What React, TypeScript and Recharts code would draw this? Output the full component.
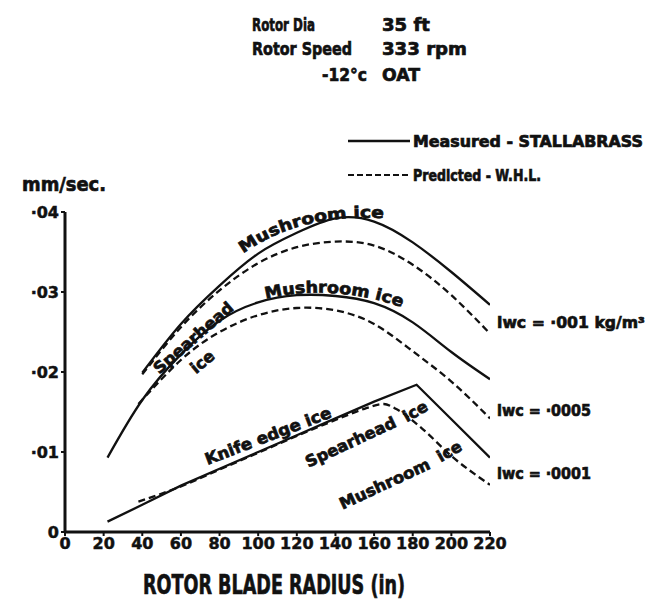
import { LineChart, Line, XAxis, YAxis } from "recharts";

// values (x = radius in, y = mm/sec)
const hiX = [40, 60, 80, 100, 120, 140, 160, 180, 200, 220];
const hiMeasured = [0.0199, 0.026, 0.0308, 0.0348, 0.0374, 0.0392, 0.0388, 0.0362, 0.0325, 0.0284];
const hiPredicted = [0.0197, 0.0256, 0.0302, 0.0336, 0.0356, 0.0363, 0.0358, 0.0334, 0.0296, 0.0248];

const midX = [22, 40, 60, 80, 100, 120, 140, 160, 180, 200, 220];
const midMeasured = [0.0093, 0.0165, 0.0222, 0.0264, 0.0287, 0.0296, 0.0295, 0.0286, 0.0262, 0.0225, 0.0191];
const midPredX = [38, 60, 80, 100, 120, 140, 160, 180, 200, 220];
const midPredicted = [0.016, 0.0215, 0.025, 0.0271, 0.028, 0.0277, 0.026, 0.0226, 0.0188, 0.0142];

const loX = [22, 40, 60, 80, 100, 120, 140, 160, 182, 200, 220];
const loMeasured = [0.0013, 0.0034, 0.0058, 0.0079, 0.01, 0.0121, 0.0142, 0.0163, 0.0184, 0.0141, 0.0093];
const loPredX = [38, 60, 80, 100, 120, 140, 155, 165, 172, 185, 200, 220];
const loPredicted = [0.0038, 0.0057, 0.0078, 0.0099, 0.012, 0.014, 0.0154, 0.016, 0.0153, 0.0129, 0.0095, 0.0059];

const xTicks = [0, 20, 40, 60, 80, 100, 120, 140, 160, 180, 200, 220];
const yTicks = [0, 0.01, 0.02, 0.03, 0.04];

const pts = (xs: number[], ys: number[]) => xs.map((x, i) => ({ x, y: ys[i] }));

const FONT = '"DejaVu Sans", sans-serif';
const INK = "#111";
const SQ = "spacingAndGlyphs";

function Overlay() {
  const t = { fontFamily: FONT, fontWeight: 700, fill: INK, stroke: INK, strokeWidth: 0.7 } as const;
  return (
    <svg width={655} height={607} style={{ position: "absolute", left: 0, top: 0, pointerEvents: "none" }}>
      <defs>
        <path id="hiLbl" d="M240,256 Q300,211 392,219" />
        <path id="midLbl" d="M262,300 Q330,282 404,308" />
      </defs>
      {/* header */}
      <g {...t} fontSize={18}>
        <text x={252} y={31} textLength={63} lengthAdjust={SQ}>Rotor Dia</text>
        <text x={382} y={31} textLength={48} lengthAdjust={SQ}>35 ft</text>
        <text x={252} y={55} textLength={100} lengthAdjust={SQ}>Rotor Speed</text>
        <text x={382} y={55} textLength={85} lengthAdjust={SQ}>333 rpm</text>
        <text x={322} y={81} textLength={45} lengthAdjust={SQ}>-12°c</text>
        <text x={382} y={81} textLength={38} lengthAdjust={SQ}>OAT</text>
      </g>
      {/* legend */}
      <line x1={348} y1={141} x2={410} y2={141} stroke={INK} strokeWidth={2.4} />
      <line x1={348} y1={175} x2={410} y2={175} stroke={INK} strokeWidth={2.2} strokeDasharray="6 3" />
      <g {...t} fontSize={15}>
        <text x={413} y={147} textLength={230} lengthAdjust={SQ}>Measured - STALLABRASS</text>
        <text x={413} y={181} textLength={128} lengthAdjust={SQ}>Predicted - W.H.L.</text>
      </g>
      <text {...t} fontSize={20} x={22} y={191} textLength={84} lengthAdjust={SQ}>mm/sec.</text>
      {/* lwc labels */}
      <g {...t} fontSize={16}>
        <text x={497} y={328} textLength={148} lengthAdjust={SQ}>lwc = ·001  kg/m³</text>
        <text x={497} y={416} textLength={94} lengthAdjust={SQ}>lwc = ·0005</text>
        <text x={497} y={479} textLength={94} lengthAdjust={SQ}>lwc = ·0001</text>
      </g>
      {/* ice type labels */}
      <g {...t} fontSize={16}>
        <text><textPath href="#hiLbl" startOffset={4} textLength={148} lengthAdjust={SQ}>Mushroom ice</textPath></text>
        <text><textPath href="#midLbl" startOffset={4} textLength={138} lengthAdjust={SQ}>Mushroom ice</textPath></text>
        <text transform="translate(197,342) rotate(-41)" textAnchor="middle" textLength={100} lengthAdjust={SQ}>Spearhead</text>
        <text transform="translate(206,366) rotate(-40)" textAnchor="middle">ice</text>
        <text transform="translate(270,441) rotate(-21)" textAnchor="middle" textLength={134} lengthAdjust={SQ}>Knife edge ice</text>
        <text transform="translate(353,447) rotate(-25)" textAnchor="middle" textLength={98} lengthAdjust={SQ}>Spearhead</text>
        <text transform="translate(418,416) rotate(-30)" textAnchor="middle">ice</text>
        <text transform="translate(387,489) rotate(-25)" textAnchor="middle" textLength={98} lengthAdjust={SQ}>Mushroom</text>
        <text transform="translate(452,456) rotate(-30)" textAnchor="middle">ice</text>
      </g>
      <text {...t} fontSize={26} x={143} y={594} textLength={262} lengthAdjust={SQ}>ROTOR BLADE RADIUS (in)</text>
    </svg>
  );
}

export default function App() {
  const common = { dataKey: "y", stroke: INK, strokeWidth: 2.3, dot: false, isAnimationActive: false } as const;
  const dash = "7 4";
  const tick = { fill: INK, stroke: INK, strokeWidth: 0.5, fontSize: 16, fontWeight: 700, fontFamily: FONT };
  return (
    <div style={{ position: "absolute", left: 0, top: 0, width: 655, height: 607, background: "#fff" }}>
      <LineChart width={655} height={607} margin={{ top: 212, right: 165, bottom: 45, left: 5 }}>
        <XAxis
          type="number"
          dataKey="x"
          domain={[0, 220]}
          ticks={xTicks}
          height={30}
          axisLine={{ stroke: INK, strokeWidth: 3 }}
          tickLine={{ stroke: INK, strokeWidth: 2 }}
          tickSize={4}
          tick={tick}
          allowDataOverflow
        />
        <YAxis
          type="number"
          domain={[0, 0.04]}
          ticks={yTicks}
          width={60}
          axisLine={{ stroke: INK, strokeWidth: 3 }}
          tickLine={{ stroke: INK, strokeWidth: 2 }}
          tickSize={4}
          tick={tick}
          tickFormatter={(v: number) => (v === 0 ? "0" : "·0" + Math.round(v * 100))}
          allowDataOverflow
        />
        <Line {...common} data={pts(hiX, hiMeasured)} type="natural" />
        <Line {...common} data={pts(hiX, hiPredicted)} type="natural" strokeDasharray={dash} />
        <Line {...common} data={pts(midX, midMeasured)} type="natural" />
        <Line {...common} data={pts(midPredX, midPredicted)} type="natural" strokeDasharray={dash} />
        <Line {...common} data={pts(loX, loMeasured)} type="linear" />
        <Line {...common} data={pts(loPredX, loPredicted)} type="monotone" strokeDasharray={dash} />
      </LineChart>
      <Overlay />
    </div>
  );
}
